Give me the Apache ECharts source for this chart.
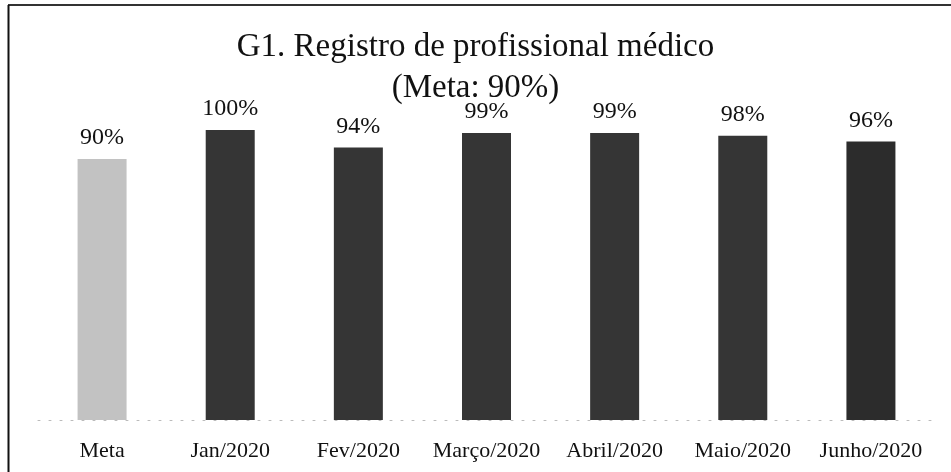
<!DOCTYPE html>
<html>
<head>
<meta charset="utf-8">
<script src="https://cdn.jsdelivr.net/npm/echarts@6/dist/echarts.min.js"></script>
<style>
  html, body { margin: 0; padding: 0; background: #fff; }
  #chart { width: 951px; height: 472px; }
</style>
</head>
<body>
<div id="chart"></div>
<script>
const categories = ["Meta", "Jan/2020", "Fev/2020", "Março/2020", "Abril/2020", "Maio/2020", "Junho/2020"];
const values = [90, 100, 94, 99, 99, 98, 96];
const barColors = ["#c2c2c2", "#353535", "#353535", "#353535", "#353535", "#353535", "#2c2c2c"];

var chart = echarts.init(document.getElementById("chart"));
var serif = "Georgia, 'Liberation Serif', 'DejaVu Serif', serif";
var option = {
  backgroundColor: "#ffffff",
  animation: false,
  textStyle: { fontFamily: serif },
  title: {
    text: "G1. Registro de profissional médico\n(Meta: 90%)",
    left: "center",
    top: 22,
    textStyle: {
      fontFamily: serif,
      fontSize: 33,
      fontWeight: "normal",
      color: "#111",
      lineHeight: 41,
    },
  },
  graphic: [
    {
      type: "line",
      shape: { x1: 8, y1: 5, x2: 951, y2: 5 },
      style: { stroke: "#333", lineWidth: 2 },
    },
    {
      type: "line",
      shape: { x1: 8.5, y1: 5, x2: 8.5, y2: 472 },
      style: { stroke: "#111", lineWidth: 2 },
    },
  ],
  grid: {
    top: 130,
    bottom: 52,
    left: 38,
    right: 16,
  },
  xAxis: {
    type: "category",
    data: categories,
    axisLine: {
      show: true,
      lineStyle: { color: "#bbbbbb", type: [2, 9], width: 1 },
    },
    axisTick: { show: false },
    axisLabel: {
      interval: 0,
      hideOverlap: false,
      fontFamily: serif,
      fontSize: 22,
      color: "#111",
      margin: 20,
    },
  },
  yAxis: {
    type: "value",
    min: 0,
    max: 100,
    show: false,
    splitLine: { show: false },
  },
  series: {
    type: "bar",
    data: values.map((v, i) => ({ value: v, itemStyle: { color: barColors[i] } })),
    barWidth: 49,
    label: {
      show: true,
      position: "top",
      distance: 9,
      formatter: "{c}%",
      fontFamily: serif,
      fontSize: 24,
      color: "#111",
    },
  },
};
option && chart.setOption(option);
</script>
</body>
</html>
